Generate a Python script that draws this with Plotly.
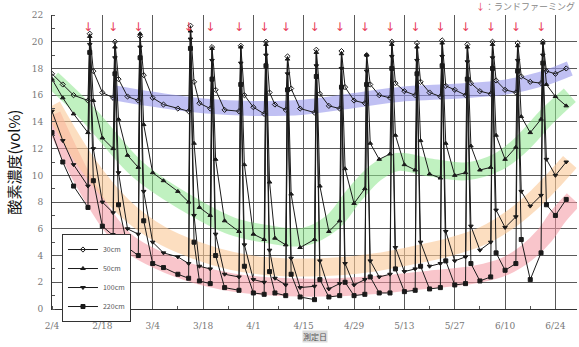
import plotly.graph_objects as go

# ---------------- data ----------------
dates = [
    "2019-02-04", "2019-02-07", "2019-02-10",
    "2019-02-14", "2019-02-14 12:00", "2019-02-15 12:00", "2019-02-18",
    "2019-02-21", "2019-02-21 12:00", "2019-02-22 12:00", "2019-02-25",
    "2019-02-28", "2019-02-28 12:00", "2019-03-01 12:00", "2019-03-04", "2019-03-07", "2019-03-11",
    "2019-03-14", "2019-03-14 12:00", "2019-03-15 12:00", "2019-03-17",
    "2019-03-20", "2019-03-20 12:00", "2019-03-21 12:00", "2019-03-24",
    "2019-03-28", "2019-03-28 12:00", "2019-03-29 12:00", "2019-04-01",
    "2019-04-04", "2019-04-04 12:00", "2019-04-05 12:00", "2019-04-07",
    "2019-04-10", "2019-04-10 12:00", "2019-04-11 12:00", "2019-04-14",
    "2019-04-18", "2019-04-18 12:00", "2019-04-19 12:00", "2019-04-22",
    "2019-04-25", "2019-04-25 12:00", "2019-04-26 12:00", "2019-04-29",
    "2019-05-02", "2019-05-02 12:00", "2019-05-03 12:00", "2019-05-06",
    "2019-05-09", "2019-05-09 12:00", "2019-05-10 12:00", "2019-05-13",
    "2019-05-16", "2019-05-16 12:00", "2019-05-17 12:00", "2019-05-20",
    "2019-05-23", "2019-05-23 12:00", "2019-05-24 12:00", "2019-05-27",
    "2019-05-30", "2019-05-30 12:00", "2019-05-31 12:00", "2019-06-03",
    "2019-06-06", "2019-06-06 12:00", "2019-06-07 12:00", "2019-06-10",
    "2019-06-13", "2019-06-13 12:00", "2019-06-14 12:00", "2019-06-17",
    "2019-06-20", "2019-06-20 12:00", "2019-06-21 12:00", "2019-06-24", "2019-06-27",
]

o2_30cm = [
    17.6, 16.8, 16.0,
    15.6, 20.6, 17.8, 16.2,
    15.8, 20.0, 17.2, 15.9,
    15.6, 20.4, 17.5, 15.8, 15.3, 15.0,
    14.8, 21.2, 17.0, 15.4,
    15.0, 19.6, 16.4, 14.9,
    14.8, 19.7, 16.0, 15.1,
    14.6, 20.0, 16.2, 15.3,
    14.9, 18.9, 16.5, 15.0,
    14.7, 19.4, 16.1, 15.2,
    15.0, 19.3, 16.6, 15.6,
    15.4, 19.0, 16.8, 16.0,
    15.8, 20.0, 16.9, 16.3,
    16.0, 19.9, 17.0, 16.2,
    15.9, 20.1, 16.7, 16.4,
    16.0, 19.8, 16.9, 16.3,
    16.1, 20.0, 17.1, 16.4,
    16.2, 19.9, 17.4, 17.0,
    16.9, 20.0, 17.8, 17.6, 18.0,
]

o2_50cm = [
    17.2, 15.8, 14.6,
    13.2, 20.4, 15.6, 12.8,
    12.0, 19.6, 14.2, 11.5,
    10.6, 20.6, 13.8, 10.2, 9.6, 8.8,
    8.0, 20.8, 12.4, 7.6,
    7.0, 19.5, 11.2, 6.6,
    5.8, 19.6, 10.8, 5.6,
    5.2, 19.8, 9.5, 5.3,
    4.8, 18.7, 8.6, 4.6,
    5.2, 19.2, 9.2, 5.8,
    6.6, 19.1, 10.5, 7.9,
    9.0, 19.0, 12.4, 11.2,
    11.6, 19.8, 13.0, 10.8,
    10.4, 19.6, 12.6, 10.1,
    9.8, 19.9, 12.4, 10.0,
    10.2, 19.6, 12.2, 10.4,
    10.6, 19.8, 13.0, 11.2,
    12.1, 19.7, 14.4, 13.2,
    14.2, 19.9, 16.8, 15.9, 15.2,
]

o2_100cm = [
    14.8, 12.6, 10.8,
    9.2, 19.8, 12.0, 8.0,
    7.2, 18.8, 10.2, 6.0,
    5.6, 19.6, 8.8, 5.0, 4.2, 3.9,
    3.4, 20.2, 7.0, 3.2,
    3.0, 18.6, 5.6, 2.6,
    2.4, 18.4, 4.8, 2.2,
    2.0, 19.0, 4.4, 2.3,
    1.8, 17.6, 3.8, 1.6,
    1.7, 18.2, 3.6, 1.5,
    1.9, 18.0, 3.4, 1.8,
    2.2, 17.8, 3.6, 2.4,
    2.6, 18.9, 4.6, 2.8,
    3.0, 18.6, 5.0, 3.2,
    3.4, 18.9, 5.8, 3.6,
    3.9, 18.5, 6.2, 4.4,
    5.0, 18.8, 7.4, 6.1,
    6.9, 18.6, 8.8, 7.7,
    8.5, 19.0, 11.2, 10.0, 11.0,
]

o2_220cm = [
    13.2, 11.0, 9.2,
    7.6, 19.2, 9.6, 6.2,
    5.5, 17.6, 7.8, 4.6,
    4.0, 18.8, 6.6, 3.4, 3.1, 2.6,
    2.3, 19.5, 5.0, 2.1,
    1.9, 17.2, 4.0, 1.6,
    1.4, 16.8, 3.2, 1.2,
    1.1, 18.2, 2.8, 1.2,
    1.0, 16.4, 2.6, 0.9,
    0.7, 17.4, 2.2, 0.9,
    1.0, 16.6, 2.0, 1.0,
    1.1, 16.8, 2.4, 1.2,
    1.2, 18.0, 3.0, 1.3,
    1.4, 17.6, 3.2, 1.5,
    1.6, 18.2, 3.6, 1.8,
    1.9, 17.2, 3.4, 2.1,
    2.4, 18.0, 4.2, 2.9,
    3.4, 17.8, 5.2, 2.2,
    4.2, 18.4, 7.8, 7.0, 8.2,
]

series_names = ["30cm", "50cm", "100cm", "220cm"]
series_symbols = ["diamond-open", "triangle-up", "triangle-down", "square"]

# guide bands (trend lines)
band_blue_dates = ["2019-02-21", "2019-03-04", "2019-03-18", "2019-04-01", "2019-04-15",
                   "2019-04-29", "2019-05-13", "2019-05-27", "2019-06-10", "2019-06-20", "2019-06-28"]
band_blue = [16.2, 15.7, 15.2, 15.0, 15.1, 15.6, 16.1, 16.3, 16.6, 17.2, 18.0]

band_green_dates = ["2019-02-04", "2019-02-14", "2019-02-28", "2019-03-13", "2019-03-26",
                    "2019-04-05", "2019-04-15", "2019-04-23", "2019-04-29", "2019-05-05",
                    "2019-05-11", "2019-05-20", "2019-05-30", "2019-06-08", "2019-06-14",
                    "2019-06-22", "2019-06-28"]
band_green = [17.2, 14.6, 10.4, 8.0, 6.2, 5.6, 5.4, 6.5, 8.5, 10.2, 11.0, 10.6, 10.3,
              11.0, 12.2, 14.5, 16.0]

band_orange_dates = ["2019-02-04", "2019-02-14", "2019-02-24", "2019-03-06", "2019-03-16",
                     "2019-03-26", "2019-04-05", "2019-04-15", "2019-04-25", "2019-05-05",
                     "2019-05-15", "2019-05-25", "2019-06-04", "2019-06-12", "2019-06-19",
                     "2019-06-24", "2019-06-28"]
band_orange = [15.2, 10.8, 7.6, 5.6, 4.4, 3.6, 3.2, 3.1, 3.2, 3.5, 4.0, 4.6, 5.5, 6.8,
               8.4, 9.8, 11.0]

band_red_dates = ["2019-02-04", "2019-02-14", "2019-02-24", "2019-03-06", "2019-03-16",
                  "2019-03-26", "2019-04-05", "2019-04-20", "2019-05-05", "2019-05-20",
                  "2019-06-02", "2019-06-10", "2019-06-16", "2019-06-21", "2019-06-25",
                  "2019-06-29"]
band_red = [14.5, 9.0, 5.2, 3.6, 2.6, 2.0, 1.7, 1.6, 1.8, 2.2, 2.6, 3.2, 4.2, 5.5, 7.0, 8.2]

farming_dates = ["2019-02-14", "2019-02-21", "2019-02-28", "2019-03-14", "2019-03-20",
                 "2019-03-28", "2019-04-04", "2019-04-10", "2019-04-18", "2019-04-25",
                 "2019-05-02", "2019-05-09", "2019-05-16", "2019-05-23", "2019-05-30",
                 "2019-06-06", "2019-06-13", "2019-06-20"]

x_tick_dates = ["2019-02-04", "2019-02-18", "2019-03-04", "2019-03-18", "2019-04-01",
                "2019-04-15", "2019-04-29", "2019-05-13", "2019-05-27", "2019-06-10",
                "2019-06-24"]
x_tick_labels = ["2/4", "2/18", "3/4", "3/18", "4/1", "4/15", "4/29", "5/13", "5/27",
                 "6/10", "6/24"]
y_ticks = [0, 2, 4, 6, 8, 10, 12, 14, 16, 18, 20, 22]

# ---------------- figure ----------------
fig = go.Figure()

bands = [
    (band_red_dates, band_red, "rgba(244,150,160,0.55)", 18),
    (band_orange_dates, band_orange, "rgba(250,200,150,0.6)", 18),
    (band_green_dates, band_green, "rgba(140,230,140,0.55)", 18),
    (band_blue_dates, band_blue, "rgba(150,150,235,0.6)", 15),
]
for bx, by, col, w in bands:
    fig.add_trace(go.Scatter(x=bx, y=by, mode="lines",
                             line=dict(color=col, width=w, shape="spline", smoothing=1.0),
                             hoverinfo="skip", showlegend=False))

for name, vals, sym in zip(series_names, [o2_30cm, o2_50cm, o2_100cm, o2_220cm], series_symbols):
    fig.add_trace(go.Scatter(
        x=dates, y=vals, mode="lines+markers", name=name,
        line=dict(color="#1a1a1a", width=1),
        marker=dict(symbol=sym, size=4, color="#1a1a1a", line=dict(color="#1a1a1a", width=1)),
    ))

fig.add_trace(go.Scatter(
    x=farming_dates, y=[21.05] * len(farming_dates), mode="text", text=["↓"] * len(farming_dates),
    textfont=dict(color="#e8405a", size=12, family="DejaVu Sans"), showlegend=False, hoverinfo="skip",
    cliponaxis=False,
))

fig.update_layout(
    width=579, height=347,
    margin=dict(l=52, r=2, t=15, b=38),
    paper_bgcolor="white", plot_bgcolor="white",
    font=dict(family="Noto Sans CJK JP, DejaVu Sans", color="#777", size=9),
    showlegend=True,
    legend=dict(x=0.019, y=0.255, xanchor="left", yanchor="top", bgcolor="white",
                bordercolor="#333", borderwidth=1, font=dict(size=7, color="#555"),
                itemwidth=30, tracegroupgap=0),
)

fig.update_xaxes(
    type="date", range=["2019-02-04", "2019-06-30"],
    tickmode="array", tickvals=x_tick_dates, ticktext=x_tick_labels,
    showgrid=True, gridcolor="#5a5a5a", gridwidth=1,
    showline=True, linecolor="#333", linewidth=1,
    ticks="", ticklabelstandoff=8, tickfont=dict(size=9, color="#777", family="DejaVu Serif"),
    minor=dict(dtick=7 * 86400000, tick0="2019-02-04", ticks="inside", ticklen=3, tickcolor="#555", showgrid=False),
    zeroline=False,
)
fig.update_yaxes(
    range=[0, 22], tickmode="array", tickvals=y_ticks,
    showgrid=True, gridcolor="#5a5a5a", gridwidth=1,
    showline=True, linecolor="#333", linewidth=1,
    ticks="", ticklabelstandoff=6, tickfont=dict(size=9, color="#777", family="DejaVu Serif"),
    minor=dict(dtick=1, ticks="inside", ticklen=3, tickcolor="#555", showgrid=False),
    zeroline=False,
)

fig.add_annotation(text="酸素濃度(vol%)", xref="paper", yref="paper", x=-0.075, y=0.5,
                   xanchor="center", yanchor="middle", textangle=-90, showarrow=False,
                   font=dict(size=15, color="#111", family="Noto Sans CJK JP"))
fig.add_annotation(text="測定日", xref="paper", yref="paper", x=0.5, y=-0.095,
                   xanchor="center", yanchor="middle", showarrow=False, bgcolor="#dcdcdc",
                   borderpad=0,
                   font=dict(size=8, color="#555", family="Noto Sans CJK JP"))
fig.add_annotation(text="<span style='color:#e8405a'>↓</span>：ランドファーミング", xref="paper", yref="paper",
                   x=1.0, y=1.0, xanchor="right", yanchor="bottom", showarrow=False,
                   font=dict(size=9, color="#888", family="Noto Sans CJK JP"))

fig.write_html("out.html")
